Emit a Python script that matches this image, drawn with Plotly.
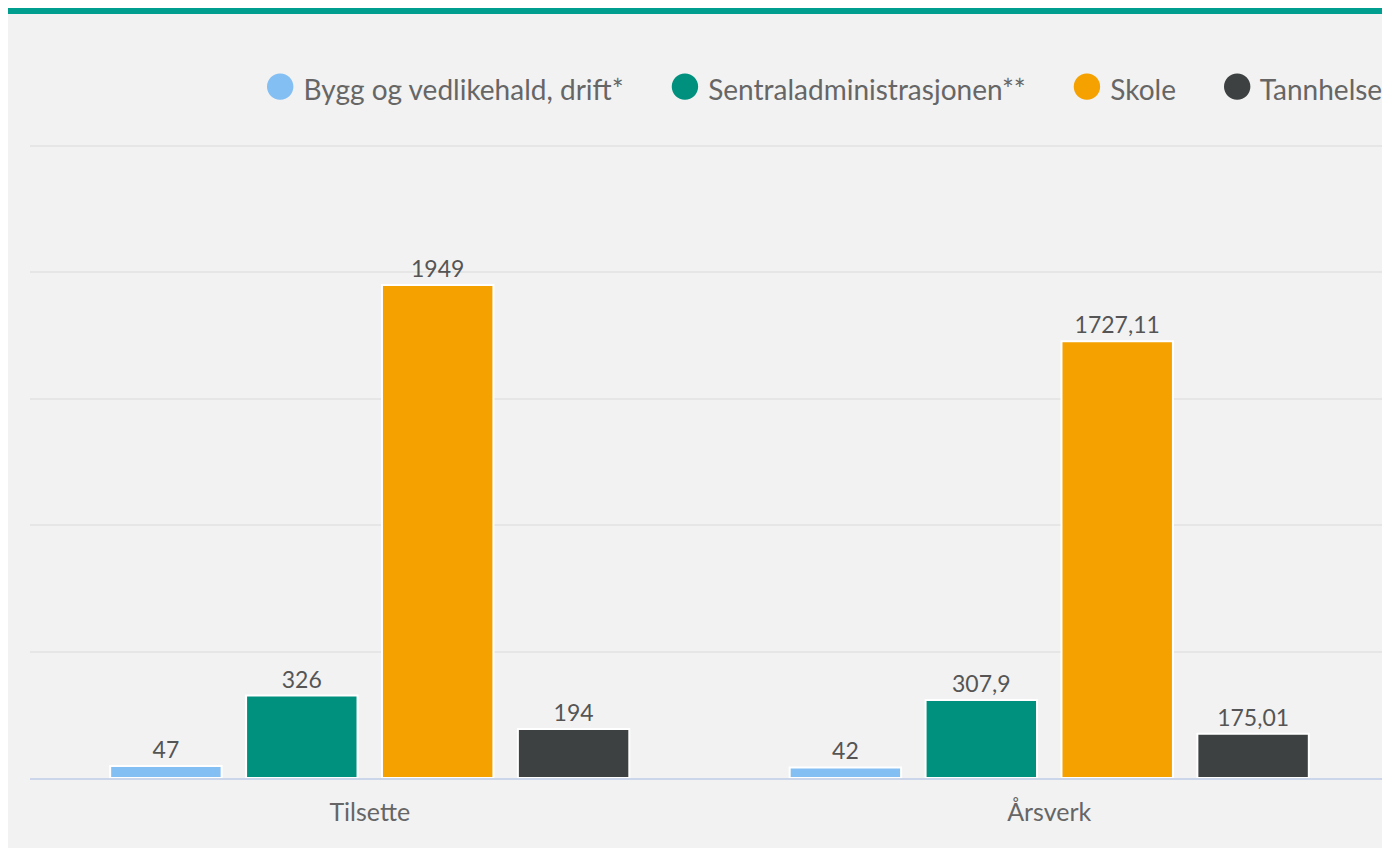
import plotly.graph_objects as go

categories = ["Tilsette", "Årsverk"]
series_names = ["Bygg og vedlikehald, drift*", "Sentraladministrasjonen**", "Skole", "Tannhelse"]
bygg = [47, 42]
sentral = [326, 307.9]
skole = [1949, 1727.11]
tannhelse = [194, 175.01]

colors = ["#83bff3", "#00917e", "#f5a100", "#3d4142"]
W, H = 1390, 848
# the page adds an 8px body margin, so figure px = screen px - 8
ML, MR, MT, MB = 22, 9, 125, 78
YMAX = 2550


def fmt(v):
    return f"{v:g}".replace(".", ",")


def px_x(px):
    return (px - ML) / (W - ML - MR)


def px_y(py):
    return (H - MB - py) / (H - MT - MB)


fig = go.Figure()

for name, vals, col in zip(series_names, [bygg, sentral, skole, tannhelse], colors):
    fig.add_trace(go.Bar(
        x=categories,
        y=vals,
        name=name,
        marker=dict(color=col, line=dict(color="white", width=2)),
        text=[fmt(v) for v in vals],
        textposition="outside",
        textfont=dict(family="Lato", size=23, color="#555555"),
        showlegend=False,
    ))
    # legend entry with a big round dot
    fig.add_trace(go.Scatter(
        x=[None], y=[None], mode="markers",
        marker=dict(color="rgba(0,0,0,0)", size=1, opacity=0),
        name=f"<span style='color:{col};font-size:54px;baseline-shift:-3px'>●</span>&nbsp;{name}",
        showlegend=True,
    ))

fig.update_layout(
    width=W, height=H,
    margin=dict(l=ML, r=MR, t=MT, b=MB, pad=0),
    paper_bgcolor="#f2f2f2",
    plot_bgcolor="#f2f2f2",
    barmode="group",
    bargap=0.2,
    bargroupgap=0.18,
    font=dict(family="Lato", color="#666666"),
    showlegend=True,
    legend=dict(
        orientation="h",
        x=px_x(216), xanchor="left",
        y=px_y(81), yanchor="middle",
        font=dict(family="Lato", size=28, color="#666666"),
        bgcolor="rgba(0,0,0,0)",
    ),
    xaxis=dict(
        showline=True, linecolor="#ccd6eb", linewidth=2,
        ticks="", showgrid=False,
        tickfont=dict(family="Lato", size=25, color="#666666"),
        ticklabelstandoff=11,
    ),
    yaxis=dict(
        range=[0, YMAX], dtick=500,
        showticklabels=False, showgrid=True,
        gridcolor="#e6e6e6", gridwidth=2, zeroline=False,
    ),
    shapes=[
        dict(type="rect", xref="paper", yref="paper", x0=px_x(1378), x1=px_x(W),
             y0=px_y(H), y1=px_y(0), fillcolor="white", line_width=0, layer="above"),
        dict(type="rect", xref="paper", yref="paper", x0=px_x(0), x1=px_x(1378),
             y0=px_y(6), y1=px_y(0), fillcolor="#009e8e", line_width=0, layer="above"),
    ],
)

fig.write_html("out.html")
